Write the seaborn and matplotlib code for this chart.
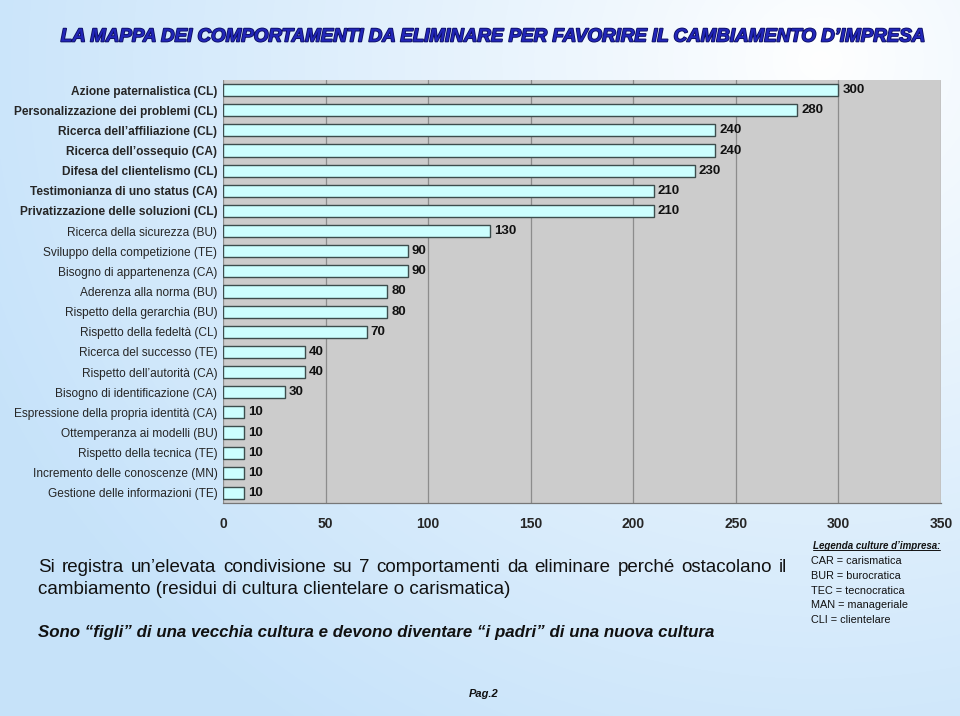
import numpy as np
import pandas as pd
import matplotlib
matplotlib.use("Agg")
import matplotlib.pyplot as plt
import matplotlib.patheffects as pe
import seaborn as sns

categories = [
    "Azione paternalistica (CL)",
    "Personalizzazione dei problemi (CL)",
    "Ricerca dell\u2019affiliazione (CL)",
    "Ricerca dell\u2019ossequio (CA)",
    "Difesa del clientelismo (CL)",
    "Testimonianza di uno status (CA)",
    "Privatizzazione delle soluzioni (CL)",
    "Ricerca della sicurezza (BU)",
    "Sviluppo della competizione (TE)",
    "Bisogno di appartenenza (CA)",
    "Aderenza alla norma (BU)",
    "Rispetto della gerarchia (BU)",
    "Rispetto della fedelt\u00e0 (CL)",
    "Ricerca del successo (TE)",
    "Rispetto dell\u2019autorit\u00e0 (CA)",
    "Bisogno di identificazione (CA)",
    "Espressione della propria identit\u00e0 (CA)",
    "Ottemperanza ai modelli (BU)",
    "Rispetto della tecnica (TE)",
    "Incremento delle conoscenze (MN)",
    "Gestione delle informazioni (TE)",
]
values = [300, 280, 240, 240, 230, 210, 210, 130, 90, 90, 80, 80, 70,
          40, 40, 30, 10, 10, 10, 10, 10]
x_ticks = [0, 50, 100, 150, 200, 250, 300, 350]
n_bold = 7

title = "LA MAPPA DEI COMPORTAMENTI DA ELIMINARE PER FAVORIRE IL CAMBIAMENTO D\u2019IMPRESA"
body_line1 = "Si registra un\u2019elevata condivisione su 7 comportamenti da eliminare perch\u00e9 ostacolano il"
body_line2 = "cambiamento (residui di cultura clientelare o carismatica)"
quote = "Sono \u201cfigli\u201d di una vecchia cultura e devono diventare \u201ci padri\u201d di una nuova cultura"
legend_title = "Legenda culture d\u2019impresa:"
legend_lines = ["CAR = carismatica", "BUR = burocratica", "TEC = tecnocratica",
                "MAN = manageriale", "CLI = clientelare"]
page = "Pag.2"

df = pd.DataFrame({"comportamento": categories, "valore": values})

sns.set_theme(style="white")
plt.rcParams["font.family"] = ["Liberation Sans", "DejaVu Sans"]

W, H = 960, 716
fig = plt.figure(figsize=(W / 100, H / 100), dpi=100)

# gradient background
bg = fig.add_axes([0, 0, 1, 1], zorder=-10)
yy, xx = np.mgrid[0:H, 0:W]
d = np.sqrt(((xx - 820) / 1.0) ** 2 + ((yy - 60) / 0.9) ** 2)
t = np.clip(d / 900.0, 0, 1) ** 0.9
c0 = np.array([1.0, 1.0, 1.0])
c1 = np.array([0.78, 0.89, 0.98])
img = c0[None, None, :] * (1 - t[..., None]) + c1[None, None, :] * t[..., None]
bg.imshow(img, aspect="auto", extent=[0, 1, 0, 1])
bg.set_axis_off()

ax = fig.add_axes([223 / W, 1 - 503 / H, (941 - 223) / W, (503 - 80) / H])
ax.set_facecolor("#cccccc")
sns.barplot(data=df, x="valore", y="comportamento", orient="h", ax=ax,
            color="#ccffff", edgecolor="#3d4d4d", linewidth=1.0,
            width=0.6, saturation=1.0, zorder=3)
ax.set_xlim(0, 350)
ax.set_xticks(x_ticks)
ax.set_xticklabels([str(v) for v in x_ticks], fontsize=10, fontweight="bold")
ax.set_xlabel("")
ax.set_ylabel("")
ax.tick_params(axis="x", length=3, pad=7, color="#555555")
ax.tick_params(axis="y", length=0, pad=4)
for i, lab in enumerate(ax.get_yticklabels()):
    lab.set_fontsize(8.6)
    if i < n_bold:
        lab.set_fontweight("bold")
ax.grid(axis="x", color="#8c8c8c", linewidth=0.9, zorder=0)
ax.set_axisbelow(True)
for s in ["top", "right", "left"]:
    ax.spines[s].set_visible(False)
ax.spines["bottom"].set_color("#777777")
ax.spines["bottom"].set_linewidth(0.9)
for container in ax.containers:
    ax.bar_label(container, padding=3, fontsize=9.5, fontweight="bold", color="#111111")

# title
fig.text(493 / W, 1 - 37 / H, title, ha="center", va="center", fontsize=13.5,
         fontweight="bold", style="italic",
         color="#2226b8",
         path_effects=[pe.withStroke(linewidth=1.2, foreground="#0b0d60")])

# justified body text line
renderer = fig.canvas.get_renderer()
def justified(text, x0, x1, y, **kw):
    words = text.split(" ")
    objs = [fig.text(0, y, w, **kw) for w in words]
    widths = [o.get_window_extent(renderer).width for o in objs]
    gap = ((x1 - x0) - sum(widths)) / (len(words) - 1)
    x = x0
    for o, w in zip(objs, widths):
        o.set_x(x / W)
        x += w + gap

body_kw = dict(fontsize=13.5, va="center", ha="left", color="#111111")
justified(body_line1, 38, 787, 1 - 567 / H, **body_kw)
fig.text(38 / W, 1 - 589 / H, body_line2, **body_kw)

fig.text(38 / W, 1 - 633 / H, quote, fontsize=12.2, fontweight="bold", style="italic",
         va="center", ha="left", color="#111111")

# legend
lt = fig.text(813 / W, 1 - 546 / H, legend_title, fontsize=7.0, fontweight="bold",
              style="italic", va="center", ha="left", color="#111111")
bb = lt.get_window_extent(renderer)
fig.add_artist(plt.Line2D([bb.x0 / W, bb.x1 / W], [(bb.y0 + 1) / H, (bb.y0 + 1) / H],
                          color="#111111", linewidth=0.7))
for k, line in enumerate(legend_lines):
    fig.text(811 / W, 1 - (561 + 14.8 * k) / H, line, fontsize=7.8, va="center",
             ha="left", color="#111111")

fig.text(484 / W, 1 - 694 / H, page, fontsize=8, fontweight="bold", style="italic",
         va="center", ha="center", color="#111111")

fig.savefig("out.png", dpi=100)
